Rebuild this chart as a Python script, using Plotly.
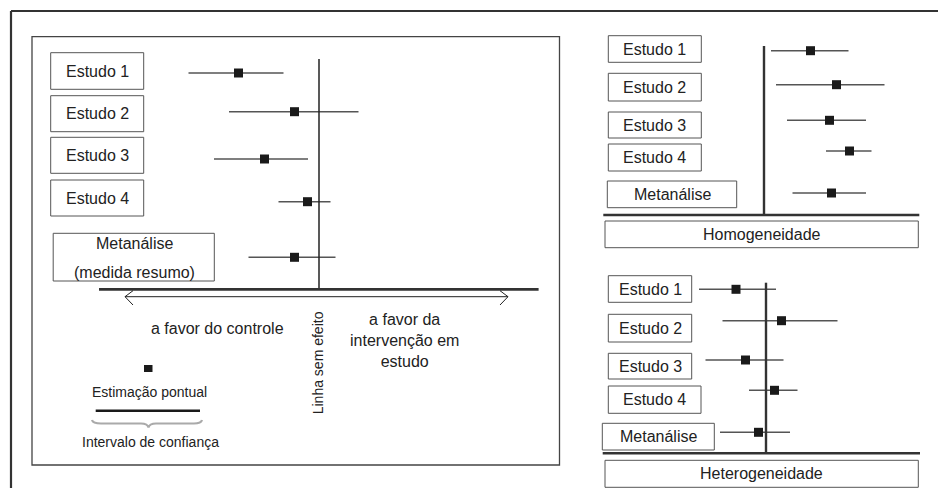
import plotly.graph_objects as go

# ---------------- data (effect sizes, arbitrary units, 0 = no effect) ----------------
studies = ["Estudo 1", "Estudo 2", "Estudo 3", "Estudo 4", "Metanálise"]

main_est = [-1.61, -0.49, -1.09, -0.23, -0.49]
main_lo = [-2.61, -1.80, -2.10, -0.81, -1.41]
main_hi = [-0.71, 0.79, -0.22, 0.23, 0.33]

homo_est = [0.93, 1.45, 1.31, 1.71, 1.35]
homo_lo = [0.14, 0.24, 0.46, 1.24, 0.57]
homo_hi = [1.69, 2.41, 2.04, 2.15, 2.04]

het_est = [-0.60, 0.31, -0.41, 0.17, -0.15]
het_lo = [-1.34, -0.87, -1.21, -0.34, -0.92]
het_hi = [0.20, 1.43, 0.35, 0.63, 0.48]

# ---------------- layout constants (pixels) ----------------
W, H = 938, 488
UNIT = 50.0  # pixels per effect unit
FONT = "Arial, Liberation Sans, sans-serif"
INK = "#222222"
BOX = "#555555"

panels = [
    # (axis name, zero px, row y px, est, lo, hi)
    ("x2", 319, [73, 111.7, 159, 201.7, 257.3], main_est, main_lo, main_hi),
    ("x3", 764, [50.7, 84.7, 120.3, 151, 193], homo_est, homo_lo, homo_hi),
    ("x4", 766, [289.3, 320.7, 360, 390.3, 432.3], het_est, het_lo, het_hi),
]

fig = go.Figure()

for ax, zero, rows, est, lo, hi in panels:
    fig.add_trace(go.Scatter(
        x=est, y=rows, xaxis=ax, yaxis="y", mode="markers",
        marker=dict(symbol="square", size=9, color="#1a1a1a", line=dict(width=0)),
        error_x=dict(type="data", symmetric=False,
                     array=[h - e for h, e in zip(hi, est)],
                     arrayminus=[e - l for e, l in zip(est, lo)],
                     width=0, thickness=1.5, color="#555555"),
        showlegend=False, hoverinfo="skip",
    ))

shapes = []
ann = []


def line(x0, y0, x1, y1, w=1.0, c=INK):
    shapes.append(dict(type="line", xref="x", yref="y", x0=x0, y0=y0, x1=x1, y1=y1,
                       line=dict(color=c, width=w)))


def rect(x0, y0, x1, y1, w=1.0, c=BOX):
    shapes.append(dict(type="rect", xref="x", yref="y", x0=x0, y0=y0, x1=x1, y1=y1,
                       line=dict(color=c, width=w), fillcolor="rgba(0,0,0,0)"))


def text(x, y, t, size=16, angle=0, color=INK):
    ann.append(dict(xref="x", yref="y", x=x, y=y, text=t, showarrow=False,
                    xanchor="center", yanchor="middle", textangle=angle,
                    font=dict(family=FONT, size=size, color=color)))


def path(d, w=1.0, c=INK):
    shapes.append(dict(type="path", xref="x", yref="y", path=d,
                       line=dict(color=c, width=w)))


# outer frame (top + left visible)
line(11, 11, 940, 11, 2.2, "#333333")
line(11, 11, 11, 490, 2.2, "#333333")

# ---------------- left panel ----------------
rect(32, 36.7, 559.5, 465, 1.3, "#444444")
left_boxes = [(50.7, 52.7, 143.7, 89.3), (50.7, 95.7, 143.7, 131.7),
              (50.7, 137.3, 143.7, 173.3), (50.7, 180, 143.7, 216)]
for (x0, y0, x1, y1), name in zip(left_boxes, studies[:4]):
    rect(x0, y0, x1, y1)
    text((x0 + x1) / 2, (y0 + y1) / 2, name)
rect(53.2, 233.3, 214.3, 281)
text(134, 243.3, "Metanálise")
text(134, 272.7, "(medida resumo)")

line(319, 59, 319, 289, 1.5)                 # no-effect line
line(99, 289.3, 538.6, 289.3, 2.8, "#333333")  # axis
line(125, 296.7, 508, 296.7, 1.0)            # double arrow
path("M 133 290.7 L 125 296.7 L 133 305", 1.0)
path("M 500 290.7 L 508 296.7 L 500 305", 1.0)

text(217, 328.3, "a favor do controle")
text(404.6, 340.7, "a favor da<br>intervenção em<br>estudo")
text(318, 363.3, "Linha sem efeito", size=14, angle=-90)

# legend-like explanations
shapes.append(dict(type="rect", xref="x", yref="y", x0=144, y0=365, x1=152.5, y1=372,
                   line=dict(width=0), fillcolor="#1a1a1a"))
text(149.3, 392.3, "Estimação pontual", size=14)
line(95.7, 410.7, 200, 410.7, 2.6, "#1a1a1a")
path("M 92 420 Q 93 423.5 101 423.5 L 141 423.5 Q 147.5 423.5 148.5 427.5 "
     "Q 149.5 423.5 156 423.5 L 194 423.5 Q 201 423.5 202 420", 2.2, "#aaaaaa")
text(150, 441.7, "Intervalo de confiança", size=14)

# ---------------- homogeneity panel ----------------
homo_boxes = [(608.3, 35.7, 701.3, 62.3), (608.3, 73.3, 701.3, 101),
              (608.3, 112, 701.3, 138), (608.3, 144, 701.3, 171),
              (607.3, 181, 736.7, 207.7)]
for (x0, y0, x1, y1), name in zip(homo_boxes, studies):
    rect(x0, y0, x1, y1)
    text((x0 + x1) / 2, (y0 + y1) / 2, name)
line(764, 46, 764, 215, 2.4, "#333333")
line(603.3, 215, 919.3, 215, 2.6, "#333333")
rect(605, 221, 918.3, 247.7)
text(761.6, 234.3, "Homogeneidade")

# ---------------- heterogeneity panel ----------------
het_boxes = [(608.3, 275.7, 691.7, 302.3), (608.3, 314.3, 691.7, 342),
             (608.3, 353.3, 691.7, 379), (608.3, 386, 701, 413.3),
             (602.3, 423.3, 714.3, 450)]
for (x0, y0, x1, y1), name in zip(het_boxes, studies):
    rect(x0, y0, x1, y1)
    text((x0 + x1) / 2, (y0 + y1) / 2, name)
line(766, 282.7, 766, 453.3, 2.4, "#333333")
line(602.7, 453.3, 920, 453.3, 2.6, "#333333")
rect(605, 460.3, 918.3, 487.3)
text(761.6, 473.8, "Heterogeneidade")

hidden = dict(visible=False, showgrid=False, zeroline=False, fixedrange=True)
layout = dict(
    width=W, height=H, margin=dict(l=0, r=0, t=0, b=0),
    paper_bgcolor="white", plot_bgcolor="white",
    xaxis=dict(range=[0, W], domain=[0, 1], **hidden),
    yaxis=dict(range=[H, 0], domain=[0, 1], **hidden),
    shapes=shapes, annotations=ann, showlegend=False,
)
for ax, zero, *_ in panels:
    key = "xaxis" + ax[1:]
    layout[key] = dict(range=[-zero / UNIT, (W - zero) / UNIT], domain=[0, 1],
                       anchor="y", overlaying="x", **hidden)
fig.update_layout(**layout)

page_fix = ("document.documentElement.style.margin='0';"
            "document.documentElement.style.overflow='hidden';"
            "document.body.style.margin='0';"
            "document.body.style.padding='0';"
            "document.body.style.overflow='hidden';")
fig.write_html("out.html", include_plotlyjs=True, config={"staticPlot": True},
               post_script=page_fix)
